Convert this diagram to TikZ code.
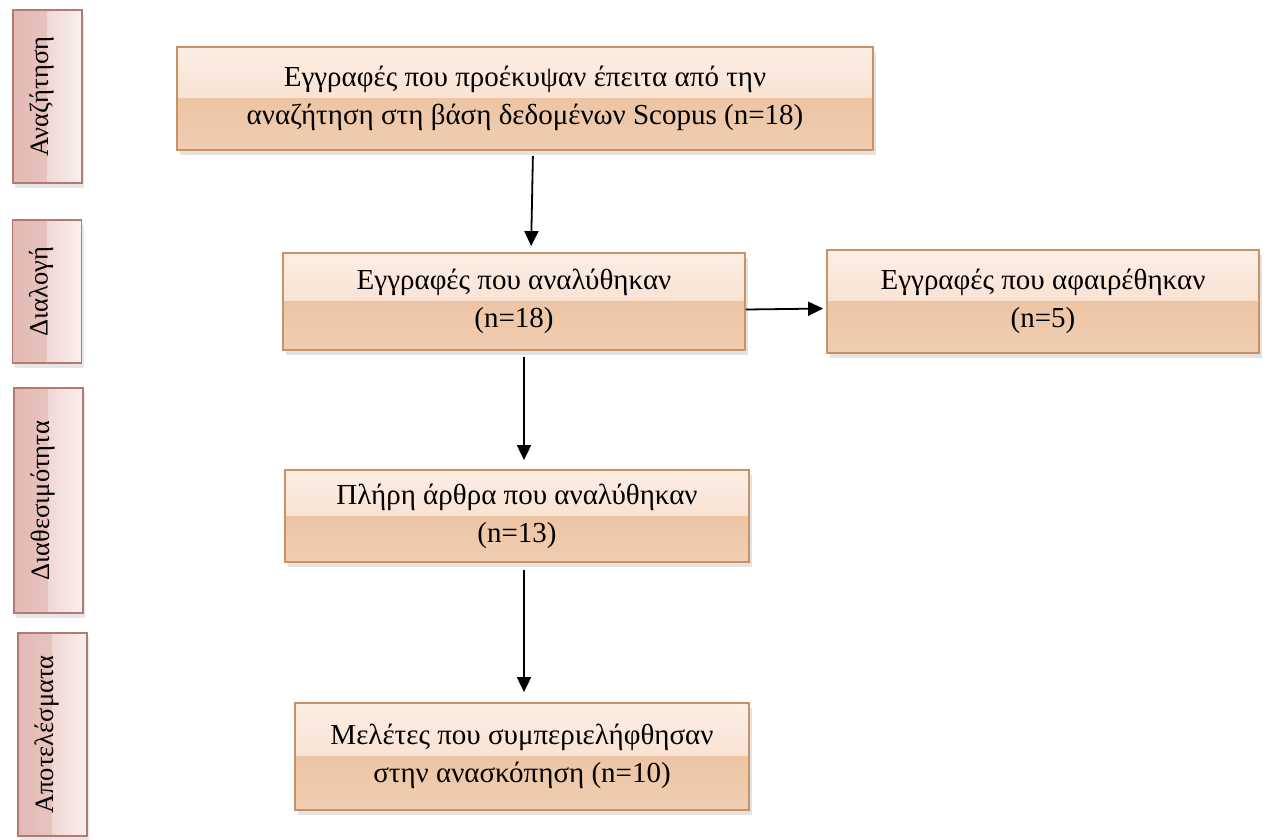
\documentclass[tikz,border=0pt]{standalone}
\usepackage{graphicx}
\usepackage{fontspec}
\setmainfont{Liberation Serif}
\newfontfamily\flowfont{Liberation Serif}
\usetikzlibrary{arrows.meta,positioning,shadows}
\definecolor{boxtop}{HTML}{FCEEE4}
\definecolor{boxmid}{HTML}{F5D7C2}
\definecolor{boxlow}{HTML}{EDC5A5}
\definecolor{boxbot}{HTML}{F0CDB1}
\definecolor{boxedge}{HTML}{C79266}
\definecolor{tagleft}{HTML}{E3B9B3}
\definecolor{tagmid}{HTML}{ECCDC9}
\definecolor{tagright}{HTML}{FAF0EF}
\definecolor{tagedge}{HTML}{B27A70}
% rotated stage name, pushed a little to the left
\newcommand{\tagtext}[1]{\rotatebox{90}{\raisebox{0pt}[\height][\dimexpr\depth+12pt\relax]{#1}}}
\tikzset{
  flowbox/.style={draw=boxedge, line width=1.8pt, inner sep=0pt, align=center,
    font=\flowfont\fontsize{29}{38}\selectfont,
    drop shadow={opacity=0.22, shadow xshift=3pt, shadow yshift=-5pt},
    path picture={
      \fill[top color=boxtop, bottom color=boxmid] (path picture bounding box.north west) rectangle (path picture bounding box.east);
      \fill[top color=boxlow, bottom color=boxbot] (path picture bounding box.west) rectangle (path picture bounding box.south east);}},
  sidetag/.style={draw=tagedge, line width=1.8pt, inner sep=0pt, minimum width=69pt,
    font=\flowfont\fontsize{26.5}{30}\selectfont,
    drop shadow={opacity=0.2, shadow xshift=2pt, shadow yshift=-5pt},
    path picture={
      \fill[left color=tagleft, right color=tagmid] (path picture bounding box.south west) rectangle (path picture bounding box.north);
      \fill[left color=tagmid!70!tagright, right color=tagright] (path picture bounding box.south) rectangle (path picture bounding box.north east);}},
  flowarrow/.style={line width=1.8pt, -{Triangle[length=15pt,width=14pt]}}
}
\begin{document}
\begin{tikzpicture}[x=1pt, y=-1pt]
\useasboundingbox (0,0) rectangle (1268,839);
% stages on the left
\node[sidetag, minimum height=173pt] (tagsearch) at (47.5,96.5) {\tagtext{Αναζήτηση}};
\node[sidetag, minimum height=143pt] (tagscreen) at (47,291.5) {\tagtext{Διαλογή}};
\node[sidetag, minimum height=225pt] (tagavail) at (48.5,500.5) {\tagtext{Διαθεσιμότητα}};
\node[sidetag, minimum height=203pt] (tagresult) at (52.5,734.5) {\tagtext{Αποτελέσματα}};
% records
\node[flowbox, minimum width=696pt, minimum height=103pt] (search) at (525,98.5)
  {Εγγραφές που προέκυψαν έπειτα από την\\αναζήτηση στη βάση δεδομένων Scopus (n=18)};
\node[flowbox, minimum width=462pt, minimum height=97pt] (screen) at (514,301.5)
  {Εγγραφές που αναλύθηκαν\\(n=18)};
\node[flowbox, minimum width=432pt, minimum height=103pt] (removed) at (1043,301.5)
  {Εγγραφές που αφαιρέθηκαν\\(n=5)};
\node[flowbox, minimum width=464pt, minimum height=92pt] (fulltext) at (517,516)
  {Πλήρη άρθρα που αναλύθηκαν\\(n=13)};
\node[flowbox, minimum width=454pt, minimum height=107pt] (included) at (522,756.5)
  {Μελέτες που συμπεριελήφθησαν\\στην ανασκόπηση (n=10)};
\coordinate (spine) at (524,0);
% arrows
\draw[flowarrow, shorten <=5pt, shorten >=6pt] ([xshift=8pt]search.south) -- ([xshift=17pt]screen.north);
\draw[flowarrow, shorten >=3pt] ([yshift=-8pt]screen.east) -- ([yshift=-7pt]removed.west);
\draw[flowarrow, shorten <=6pt, shorten >=9pt] (screen.south -| spine) -- (fulltext.north -| spine);
\draw[flowarrow, shorten <=7pt, shorten >=10pt] (fulltext.south -| spine) -- (included.north -| spine);
\end{tikzpicture}
\end{document}
